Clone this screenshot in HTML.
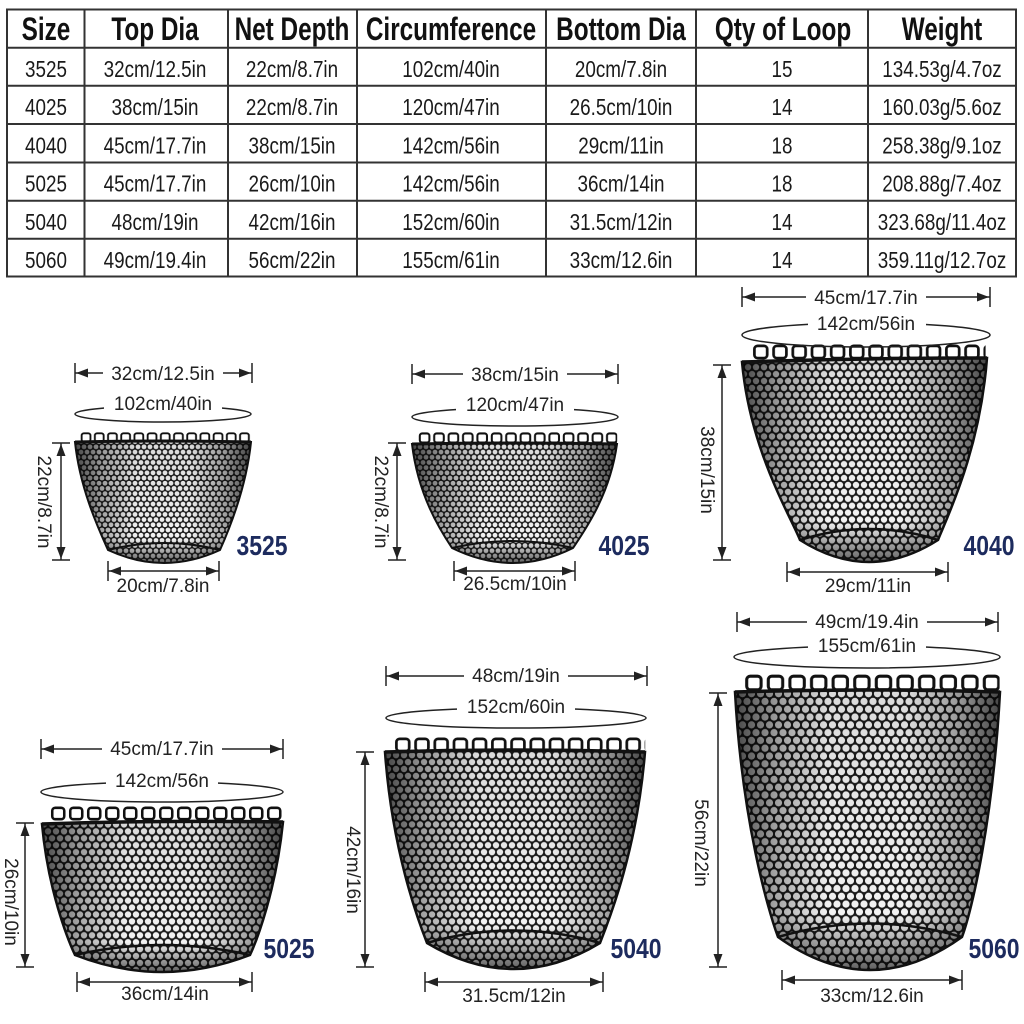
<!DOCTYPE html>
<html><head><meta charset="utf-8"><style>
html,body{margin:0;padding:0;background:#fff;}
svg{display:block;}
.dt{font-family:"Liberation Sans",sans-serif;font-size:19px;fill:#222;}
.hd{font-family:"Liberation Sans",sans-serif;font-size:32px;font-weight:bold;fill:#111;}
.bd{font-family:"Liberation Sans",sans-serif;font-size:23px;fill:#1a1a1a;}
.lb{font-family:"Liberation Sans",sans-serif;font-size:28px;font-weight:bold;fill:#1d2b5e;}
</style></head><body>
<svg width="1024" height="1024" viewBox="0 0 1024 1024" xmlns="http://www.w3.org/2000/svg">
<defs>
<pattern id="mS" width="6" height="10.392" patternUnits="userSpaceOnUse">
<rect width="6" height="10.392" fill="#1c1c1c"/>
<circle cx="0" cy="0" r="2.4" fill="#fff"/><circle cx="6" cy="0" r="2.4" fill="#fff"/>
<circle cx="0" cy="10.392" r="2.4" fill="#fff"/><circle cx="6" cy="10.392" r="2.4" fill="#fff"/>
<circle cx="3" cy="5.196" r="2.4" fill="#fff"/>
</pattern>
<pattern id="mM" width="8" height="13.856" patternUnits="userSpaceOnUse">
<rect width="8" height="13.856" fill="#1c1c1c"/>
<circle cx="0" cy="0" r="3.2" fill="#fff"/><circle cx="8" cy="0" r="3.2" fill="#fff"/>
<circle cx="0" cy="13.856" r="3.2" fill="#fff"/><circle cx="8" cy="13.856" r="3.2" fill="#fff"/>
<circle cx="4" cy="6.928" r="3.2" fill="#fff"/>
</pattern>
<pattern id="mL" width="9" height="15.588" patternUnits="userSpaceOnUse">
<rect width="9" height="15.588" fill="#1c1c1c"/>
<circle cx="0" cy="0" r="3.6" fill="#fff"/><circle cx="9" cy="0" r="3.6" fill="#fff"/>
<circle cx="0" cy="15.588" r="3.6" fill="#fff"/><circle cx="9" cy="15.588" r="3.6" fill="#fff"/>
<circle cx="4.5" cy="7.794" r="3.6" fill="#fff"/>
</pattern>
<pattern id="loop" width="12" height="10" patternUnits="userSpaceOnUse">
<rect x="1.5" y="1.2" width="8" height="7.6" rx="2" fill="none" stroke="#111" stroke-width="1.7"/>
</pattern>
<linearGradient id="gE" x1="0" y1="0" x2="1" y2="0">
<stop offset="0" stop-color="#000" stop-opacity="0.7"/>
<stop offset="0.15" stop-color="#000" stop-opacity="0.35"/>
<stop offset="0.35" stop-color="#000" stop-opacity="0.05"/>
<stop offset="0.65" stop-color="#000" stop-opacity="0.05"/>
<stop offset="0.85" stop-color="#000" stop-opacity="0.35"/>
<stop offset="1" stop-color="#000" stop-opacity="0.7"/>
</linearGradient>
<linearGradient id="gB" x1="0" y1="0" x2="0" y2="1">
<stop offset="0" stop-color="#000" stop-opacity="0.1"/>
<stop offset="0.8" stop-color="#000" stop-opacity="0"/>
<stop offset="0.9" stop-color="#000" stop-opacity="0.3"/>
<stop offset="1" stop-color="#000" stop-opacity="0.6"/>
</linearGradient>
</defs>

<!-- TABLE -->
<g stroke="#333" stroke-width="2" fill="none">
<rect x="7" y="9.5" width="1009" height="267"/>
<line x1="7" y1="47.7" x2="1016" y2="47.7"/>
<line x1="7" y1="85.7" x2="1016" y2="85.7"/>
<line x1="7" y1="124" x2="1016" y2="124"/>
<line x1="7" y1="162.5" x2="1016" y2="162.5"/>
<line x1="7" y1="200.7" x2="1016" y2="200.7"/>
<line x1="7" y1="238.7" x2="1016" y2="238.7"/>
<line x1="84.5" y1="9.5" x2="84.5" y2="276.5"/>
<line x1="228" y1="9.5" x2="228" y2="276.5"/>
<line x1="357" y1="9.5" x2="357" y2="276.5"/>
<line x1="546" y1="9.5" x2="546" y2="276.5"/>
<line x1="696" y1="9.5" x2="696" y2="276.5"/>
<line x1="868" y1="9.5" x2="868" y2="276.5"/>
</g>
<g text-anchor="middle" class="hd">
<text class="hd" transform="translate(46,40) scale(0.76,1)">Size</text>
<text class="hd" transform="translate(155,40) scale(0.76,1)">Top Dia</text>
<text class="hd" transform="translate(292,40) scale(0.76,1)">Net Depth</text>
<text class="hd" transform="translate(451,40) scale(0.76,1)">Circumference</text>
<text class="hd" transform="translate(621,40) scale(0.76,1)">Bottom Dia</text>
<text class="hd" transform="translate(783,40) scale(0.76,1)">Qty of Loop</text>
<text class="hd" transform="translate(942,40) scale(0.76,1)">Weight</text>
</g>
<g text-anchor="middle">
<g transform="translate(46,0) scale(0.82,1)">
<text class="bd" y="77">3525</text><text class="bd" y="115.2">4025</text><text class="bd" y="153.4">4040</text><text class="bd" y="191.6">5025</text><text class="bd" y="229.8">5040</text><text class="bd" y="268">5060</text>
</g>
<g transform="translate(155,0) scale(0.82,1)">
<text class="bd" y="77">32cm/12.5in</text><text class="bd" y="115.2">38cm/15in</text><text class="bd" y="153.4">45cm/17.7in</text><text class="bd" y="191.6">45cm/17.7in</text><text class="bd" y="229.8">48cm/19in</text><text class="bd" y="268">49cm/19.4in</text>
</g>
<g transform="translate(292,0) scale(0.82,1)">
<text class="bd" y="77">22cm/8.7in</text><text class="bd" y="115.2">22cm/8.7in</text><text class="bd" y="153.4">38cm/15in</text><text class="bd" y="191.6">26cm/10in</text><text class="bd" y="229.8">42cm/16in</text><text class="bd" y="268">56cm/22in</text>
</g>
<g transform="translate(451,0) scale(0.82,1)">
<text class="bd" y="77">102cm/40in</text><text class="bd" y="115.2">120cm/47in</text><text class="bd" y="153.4">142cm/56in</text><text class="bd" y="191.6">142cm/56in</text><text class="bd" y="229.8">152cm/60in</text><text class="bd" y="268">155cm/61in</text>
</g>
<g transform="translate(621,0) scale(0.82,1)">
<text class="bd" y="77">20cm/7.8in</text><text class="bd" y="115.2">26.5cm/10in</text><text class="bd" y="153.4">29cm/11in</text><text class="bd" y="191.6">36cm/14in</text><text class="bd" y="229.8">31.5cm/12in</text><text class="bd" y="268">33cm/12.6in</text>
</g>
<g transform="translate(782,0) scale(0.82,1)">
<text class="bd" y="77">15</text><text class="bd" y="115.2">14</text><text class="bd" y="153.4">18</text><text class="bd" y="191.6">18</text><text class="bd" y="229.8">14</text><text class="bd" y="268">14</text>
</g>
<g transform="translate(942,0) scale(0.82,1)">
<text class="bd" y="77">134.53g/4.7oz</text><text class="bd" y="115.2">160.03g/5.6oz</text><text class="bd" y="153.4">258.38g/9.1oz</text><text class="bd" y="191.6">208.88g/7.4oz</text><text class="bd" y="229.8">323.68g/11.4oz</text><text class="bd" y="268">359.11g/12.7oz</text>
</g>
</g>

<!-- ================= NET 3525 ================= -->
<g>
<path d="M75,442 C80,490 100,532 108,550 Q164,576 220,550 C228,532 246,490 251,442 Q163,440 75,442Z" fill="url(#mS)"/>
<path d="M75,442 C80,490 100,532 108,550 Q164,576 220,550 C228,532 246,490 251,442 Q163,440 75,442Z" fill="url(#gE)"/>
<path d="M75,442 C80,490 100,532 108,550 Q164,576 220,550 C228,532 246,490 251,442 Q163,440 75,442Z" fill="url(#gB)" stroke="#111" stroke-width="2"/>
<path d="M75,442 Q163,440 251,442" fill="none" stroke="#111" stroke-width="3"/>
<path d="M108,550 Q164,536 220,550" fill="none" stroke="#111" stroke-width="2"/>
<g transform="translate(80,432) scale(1.1)"><rect width="155" height="10" fill="url(#loop)"/></g>
</g>
<g stroke="#222" stroke-width="1.5" fill="#222">
<line x1="75" y1="373" x2="252" y2="373"/><line x1="75" y1="363" x2="75" y2="383"/><line x1="252" y1="363" x2="252" y2="383"/>
<polygon points="76,373 88,368.5 88,377.5" stroke="none"/><polygon points="251,373 239,368.5 239,377.5" stroke="none"/>
<ellipse cx="163" cy="414" rx="88" ry="8" fill="none"/>
<line x1="61" y1="443" x2="61" y2="560"/><line x1="52" y1="443" x2="70" y2="443"/><line x1="52" y1="560" x2="70" y2="560"/>
<polygon points="61,444 56.5,456 65.5,456" stroke="none"/><polygon points="61,559 56.5,547 65.5,547" stroke="none"/>
<line x1="108" y1="571" x2="219" y2="571"/><line x1="108" y1="561" x2="108" y2="581"/><line x1="219" y1="561" x2="219" y2="581"/>
<polygon points="109,571 121,566.5 121,575.5" stroke="none"/><polygon points="218,571 206,566.5 206,575.5" stroke="none"/>
</g>
<rect x="103" y="364" width="120" height="18" fill="#fff"/>
<rect x="104" y="395" width="118" height="16" fill="#fff"/>
<g text-anchor="middle">
<text class="dt" x="163" y="380">32cm/12.5in</text>
<text class="dt" x="163" y="410">102cm/40in</text>
<text class="dt" x="163" y="592">20cm/7.8in</text>
<text class="dt" transform="translate(45,502) rotate(90)" y="7">22cm/8.7in</text>
<text class="lb" transform="translate(262,555) scale(0.82,1)">3525</text>
</g>

<!-- ================= NET 4025 ================= -->
<g>
<path d="M412,444 C418,495 440,530 452,548 Q513,578 573,548 C585,530 610,495 617,444 Q515,442 412,444Z" fill="url(#mS)"/>
<path d="M412,444 C418,495 440,530 452,548 Q513,578 573,548 C585,530 610,495 617,444 Q515,442 412,444Z" fill="url(#gE)"/>
<path d="M412,444 C418,495 440,530 452,548 Q513,578 573,548 C585,530 610,495 617,444 Q515,442 412,444Z" fill="url(#gB)" stroke="#111" stroke-width="2"/>
<path d="M412,444 Q515,442 617,444" fill="none" stroke="#111" stroke-width="3"/>
<path d="M452,548 Q513,534 573,548" fill="none" stroke="#111" stroke-width="2"/>
<g transform="translate(418,432) scale(1.2)"><rect width="166" height="10" fill="url(#loop)"/></g>
</g>
<g stroke="#222" stroke-width="1.5" fill="#222">
<line x1="412" y1="374" x2="618" y2="374"/><line x1="412" y1="364" x2="412" y2="384"/><line x1="618" y1="364" x2="618" y2="384"/>
<polygon points="413,374 425,369.5 425,378.5" stroke="none"/><polygon points="617,374 605,369.5 605,378.5" stroke="none"/>
<ellipse cx="515" cy="417" rx="103" ry="9" fill="none"/>
<line x1="397" y1="443" x2="397" y2="560"/><line x1="388" y1="443" x2="406" y2="443"/><line x1="388" y1="560" x2="406" y2="560"/>
<polygon points="397,444 392.5,456 401.5,456" stroke="none"/><polygon points="397,559 392.5,547 401.5,547" stroke="none"/>
<line x1="454" y1="571" x2="575" y2="571"/><line x1="454" y1="561" x2="454" y2="581"/><line x1="575" y1="561" x2="575" y2="581"/>
<polygon points="455,571 467,566.5 467,575.5" stroke="none"/><polygon points="574,571 562,566.5 562,575.5" stroke="none"/>
</g>
<rect x="463" y="365" width="104" height="18" fill="#fff"/>
<rect x="456" y="396" width="118" height="16" fill="#fff"/>
<g text-anchor="middle">
<text class="dt" x="515" y="381">38cm/15in</text>
<text class="dt" x="515" y="411">120cm/47in</text>
<text class="dt" x="515" y="590">26.5cm/10in</text>
<text class="dt" transform="translate(382,502) rotate(90)" y="7">22cm/8.7in</text>
<text class="lb" transform="translate(624,555) scale(0.82,1)">4025</text>
</g>

<!-- ================= NET 4040 ================= -->
<g>
<path d="M742,362 C750,450 790,515 800,540 Q869,584 938,540 C948,515 980,450 987,358 Q865,358 742,362Z" fill="url(#mM)"/>
<path d="M742,362 C750,450 790,515 800,540 Q869,584 938,540 C948,515 980,450 987,358 Q865,358 742,362Z" fill="url(#gE)"/>
<path d="M742,362 C750,450 790,515 800,540 Q869,584 938,540 C948,515 980,450 987,358 Q865,358 742,362Z" fill="url(#gB)" stroke="#111" stroke-width="2.5"/>
<path d="M742,362 Q865,358 987,358" fill="none" stroke="#111" stroke-width="3.5"/>
<path d="M800,540 Q869,518 938,540" fill="none" stroke="#111" stroke-width="2.5"/>
<g transform="translate(752,344) scale(1.6)"><rect width="146" height="10" fill="url(#loop)"/></g>
</g>
<g stroke="#222" stroke-width="1.5" fill="#222">
<line x1="742" y1="297" x2="990" y2="297"/><line x1="742" y1="287" x2="742" y2="307"/><line x1="990" y1="287" x2="990" y2="307"/>
<polygon points="743,297 755,292.5 755,301.5" stroke="none"/><polygon points="989,297 977,292.5 977,301.5" stroke="none"/>
<ellipse cx="866" cy="335" rx="124" ry="12" fill="none"/>
<line x1="722" y1="365" x2="722" y2="560"/><line x1="713" y1="365" x2="731" y2="365"/><line x1="713" y1="560" x2="731" y2="560"/>
<polygon points="722,366 717.5,378 726.5,378" stroke="none"/><polygon points="722,559 717.5,547 726.5,547" stroke="none"/>
<line x1="787" y1="572" x2="948" y2="572"/><line x1="787" y1="562" x2="787" y2="582"/><line x1="948" y1="562" x2="948" y2="582"/>
<polygon points="788,572 800,567.5 800,576.5" stroke="none"/><polygon points="947,572 935,567.5 935,576.5" stroke="none"/>
</g>
<rect x="806" y="288" width="120" height="18" fill="#fff"/>
<rect x="808" y="315" width="118" height="18" fill="#fff"/>
<g text-anchor="middle">
<text class="dt" x="866" y="304">45cm/17.7in</text>
<text class="dt" x="866" y="330">142cm/56in</text>
<text class="dt" x="868" y="592">29cm/11in</text>
<text class="dt" transform="translate(708,470) rotate(90)" y="7">38cm/15in</text>
<text class="lb" transform="translate(989,555) scale(0.82,1)">4040</text>
</g>

<!-- ================= NET 5025 ================= -->
<g>
<path d="M42,824 C48,890 68,940 75,955 Q162,989 250,955 C257,940 276,890 283,822 Q162,820 42,824Z" fill="url(#mM)"/>
<path d="M42,824 C48,890 68,940 75,955 Q162,989 250,955 C257,940 276,890 283,822 Q162,820 42,824Z" fill="url(#gE)"/>
<path d="M42,824 C48,890 68,940 75,955 Q162,989 250,955 C257,940 276,890 283,822 Q162,820 42,824Z" fill="url(#gB)" stroke="#111" stroke-width="2.5"/>
<path d="M42,824 Q162,820 283,822" fill="none" stroke="#111" stroke-width="3.5"/>
<path d="M75,955 Q162,935 250,955" fill="none" stroke="#111" stroke-width="2.5"/>
<g transform="translate(50,806) scale(1.5)"><rect width="155" height="10" fill="url(#loop)"/></g>
</g>
<g stroke="#222" stroke-width="1.5" fill="#222">
<line x1="41" y1="749" x2="283" y2="749"/><line x1="41" y1="739" x2="41" y2="759"/><line x1="283" y1="739" x2="283" y2="759"/>
<polygon points="42,749 54,744.5 54,753.5" stroke="none"/><polygon points="282,749 270,744.5 270,753.5" stroke="none"/>
<ellipse cx="162" cy="792" rx="121" ry="10" fill="none"/>
<line x1="25" y1="823" x2="25" y2="967"/><line x1="16" y1="823" x2="34" y2="823"/><line x1="16" y1="967" x2="34" y2="967"/>
<polygon points="25,824 20.5,836 29.5,836" stroke="none"/><polygon points="25,966 20.5,954 29.5,954" stroke="none"/>
<line x1="77" y1="982" x2="252" y2="982"/><line x1="77" y1="972" x2="77" y2="992"/><line x1="252" y1="972" x2="252" y2="992"/>
<polygon points="78,982 90,977.5 90,986.5" stroke="none"/><polygon points="251,982 239,977.5 239,986.5" stroke="none"/>
</g>
<rect x="102" y="740" width="120" height="18" fill="#fff"/>
<rect x="106" y="772" width="112" height="17" fill="#fff"/>
<g text-anchor="middle">
<text class="dt" x="162" y="755">45cm/17.7in</text>
<text class="dt" x="162" y="787">142cm/56n</text>
<text class="dt" x="165" y="1000">36cm/14in</text>
<text class="dt" transform="translate(12,902) rotate(90)" y="7">26cm/10in</text>
<text class="lb" transform="translate(289,958) scale(0.82,1)">5025</text>
</g>

<!-- ================= NET 5040 ================= -->
<g>
<path d="M385,752 C392,850 418,920 427,943 Q514,995 600,943 C609,920 637,850 645,752 Q515,748 385,752Z" fill="url(#mM)"/>
<path d="M385,752 C392,850 418,920 427,943 Q514,995 600,943 C609,920 637,850 645,752 Q515,748 385,752Z" fill="url(#gE)"/>
<path d="M385,752 C392,850 418,920 427,943 Q514,995 600,943 C609,920 637,850 645,752 Q515,748 385,752Z" fill="url(#gB)" stroke="#111" stroke-width="2.5"/>
<path d="M385,752 Q515,748 645,752" fill="none" stroke="#111" stroke-width="3.5"/>
<path d="M427,943 Q514,918 600,943" fill="none" stroke="#111" stroke-width="2.5"/>
<g transform="translate(394,737) scale(1.6)"><rect width="157" height="10" fill="url(#loop)"/></g>
</g>
<g stroke="#222" stroke-width="1.5" fill="#222">
<line x1="386" y1="676" x2="647" y2="676"/><line x1="386" y1="666" x2="386" y2="686"/><line x1="647" y1="666" x2="647" y2="686"/>
<polygon points="387,676 399,671.5 399,680.5" stroke="none"/><polygon points="646,676 634,671.5 634,680.5" stroke="none"/>
<ellipse cx="516" cy="718" rx="130" ry="10" fill="none"/>
<line x1="365" y1="752" x2="365" y2="967"/><line x1="356" y1="752" x2="374" y2="752"/><line x1="356" y1="967" x2="374" y2="967"/>
<polygon points="365,753 360.5,765 369.5,765" stroke="none"/><polygon points="365,966 360.5,954 369.5,954" stroke="none"/>
<line x1="425" y1="982" x2="603" y2="982"/><line x1="425" y1="972" x2="425" y2="992"/><line x1="603" y1="972" x2="603" y2="992"/>
<polygon points="426,982 438,977.5 438,986.5" stroke="none"/><polygon points="602,982 590,977.5 590,986.5" stroke="none"/>
</g>
<rect x="464" y="667" width="104" height="18" fill="#fff"/>
<rect x="457" y="698" width="118" height="17" fill="#fff"/>
<g text-anchor="middle">
<text class="dt" x="516" y="682">48cm/19in</text>
<text class="dt" x="516" y="713">152cm/60in</text>
<text class="dt" x="514" y="1002">31.5cm/12in</text>
<text class="dt" transform="translate(354,870) rotate(90)" y="7">42cm/16in</text>
<text class="lb" transform="translate(636,958) scale(0.82,1)">5040</text>
</g>

<!-- ================= NET 5060 ================= -->
<g>
<path d="M735,692 C742,820 768,910 778,937 Q870,1003 962,937 C972,910 993,820 1000,692 Q868,688 735,692Z" fill="url(#mL)"/>
<path d="M735,692 C742,820 768,910 778,937 Q870,1003 962,937 C972,910 993,820 1000,692 Q868,688 735,692Z" fill="url(#gE)"/>
<path d="M735,692 C742,820 768,910 778,937 Q870,1003 962,937 C972,910 993,820 1000,692 Q868,688 735,692Z" fill="url(#gB)" stroke="#111" stroke-width="2.5"/>
<path d="M735,692 Q868,688 1000,692" fill="none" stroke="#111" stroke-width="3.5"/>
<path d="M778,937 Q870,910 962,937" fill="none" stroke="#111" stroke-width="2.5"/>
<g transform="translate(744,674) scale(1.8)"><rect width="142" height="10" fill="url(#loop)"/></g>
</g>
<g stroke="#222" stroke-width="1.5" fill="#222">
<line x1="737" y1="622" x2="998" y2="622"/><line x1="737" y1="612" x2="737" y2="632"/><line x1="998" y1="612" x2="998" y2="632"/>
<polygon points="738,622 750,617.5 750,626.5" stroke="none"/><polygon points="997,622 985,617.5 985,626.5" stroke="none"/>
<ellipse cx="867" cy="657" rx="133" ry="11" fill="none"/>
<line x1="718" y1="693" x2="718" y2="967"/><line x1="709" y1="693" x2="727" y2="693"/><line x1="709" y1="967" x2="727" y2="967"/>
<polygon points="718,694 713.5,706 722.5,706" stroke="none"/><polygon points="718,966 713.5,954 722.5,954" stroke="none"/>
<line x1="782" y1="980" x2="962" y2="980"/><line x1="782" y1="970" x2="782" y2="990"/><line x1="962" y1="970" x2="962" y2="990"/>
<polygon points="783,980 795,975.5 795,984.5" stroke="none"/><polygon points="961,980 949,975.5 949,984.5" stroke="none"/>
</g>
<rect x="807" y="613" width="120" height="18" fill="#fff"/>
<rect x="808" y="637" width="118" height="17" fill="#fff"/>
<g text-anchor="middle">
<text class="dt" x="867" y="628">49cm/19.4in</text>
<text class="dt" x="867" y="652">155cm/61in</text>
<text class="dt" x="872" y="1002">33cm/12.6in</text>
<text class="dt" transform="translate(702,843) rotate(90)" y="7">56cm/22in</text>
<text class="lb" transform="translate(994,958) scale(0.82,1)">5060</text>
</g>
</svg>
</body></html>
